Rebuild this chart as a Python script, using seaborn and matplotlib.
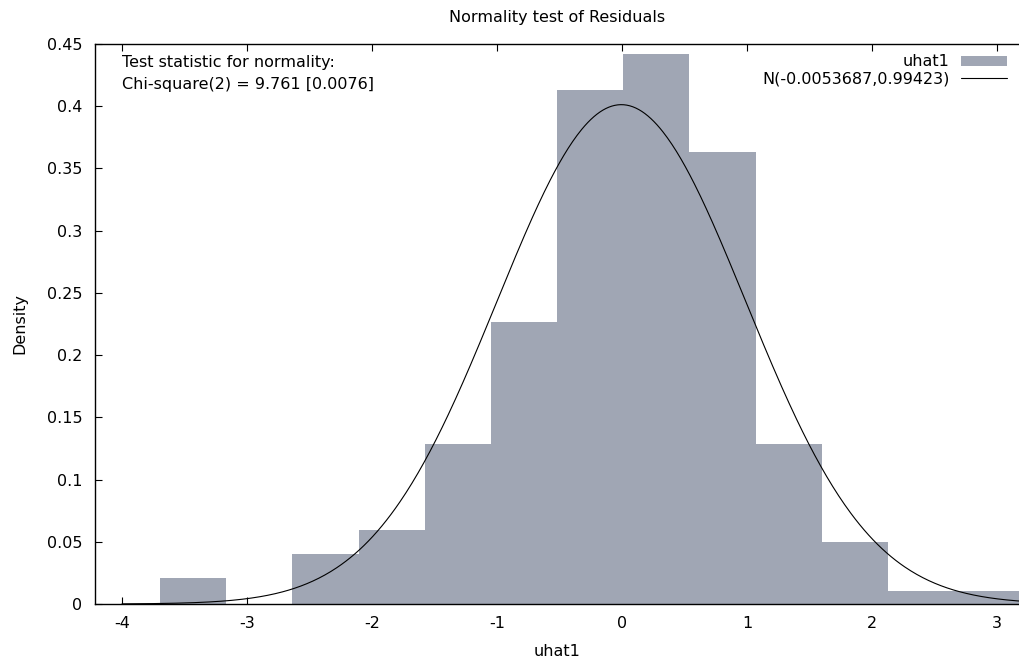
import numpy as np
import pandas as pd
import matplotlib
matplotlib.use("Agg")
import matplotlib.pyplot as plt
import seaborn as sns
from matplotlib.patches import Patch
from matplotlib.lines import Line2D

# Histogram bins (edges) and densities
bin_edges = [-3.696, -3.1665, -2.637, -2.1075, -1.578, -1.0485, -0.519, 0.0105, 0.540, 1.0695, 1.599, 2.1285, 2.658, 3.1875]
densities = [0.0209, 0.0, 0.0402, 0.0595, 0.1286, 0.2267, 0.4130, 0.4420, 0.3633, 0.1286, 0.0498, 0.0105, 0.0105]
norm_mean = -0.0053687
norm_sd = 0.99423
x_ticks = [-4, -3, -2, -1, 0, 1, 2, 3]
y_ticks = [0, 0.05, 0.1, 0.15, 0.2, 0.25, 0.3, 0.35, 0.4, 0.45]
y_ticklabels = ["0", "0.05", "0.1", "0.15", "0.2", "0.25", "0.3", "0.35", "0.4", "0.45"]
annot_lines = ["Test statistic for normality:", "Chi-square(2) = 9.761 [0.0076]"]
legend_labels = ["uhat1", "N(-0.0053687,0.99423)"]

bar_color = "#a0a6b4"
FS = 11.5

sns.set_theme(style="white")
plt.rcParams['font.family'] = ['DejaVu Sans']
plt.rcParams['text.color'] = 'black'

fig = plt.figure(figsize=(10.2, 6.64), dpi=100)
ax = fig.add_axes([95/1020, 60/664, 925/1020, 560/664])

centers = [(a + b) / 2 for a, b in zip(bin_edges[:-1], bin_edges[1:])]
df = pd.DataFrame({"uhat1": centers, "w": densities})
sns.histplot(data=df, x="uhat1", weights="w", bins=bin_edges, stat="count",
             color=bar_color, alpha=1.0, edgecolor="none", linewidth=0, ax=ax)

xs = np.linspace(-4.0, 3.2, 600)
pdf = np.exp(-0.5 * ((xs - norm_mean) / norm_sd) ** 2) / (norm_sd * np.sqrt(2 * np.pi))
sns.lineplot(x=xs, y=pdf, color="black", linewidth=0.8, ax=ax)

ax.set_xlim(-4.216, 3.184)
ax.set_ylim(0, 0.45)
ax.set_xticks(x_ticks)
ax.set_xticklabels([str(t) for t in x_ticks])
ax.set_yticks(y_ticks)
ax.set_yticklabels(y_ticklabels)

for s in ["left", "bottom", "top"]:
    ax.spines[s].set_visible(True)
    ax.spines[s].set_color("black")
    ax.spines[s].set_linewidth(1.0)
ax.spines["right"].set_visible(False)

ax.tick_params(axis="x", direction="in", length=5, width=0.8, color="black",
               top=True, bottom=True, labelsize=FS, pad=9, labelcolor="black")
ax.tick_params(axis="y", direction="in", length=5, width=0.8, color="black",
               left=True, right=False, labelsize=FS, pad=9, labelcolor="black")

ax.set_xlabel("uhat1", fontsize=FS, labelpad=9, color="black")
ax.set_ylabel("Density", fontsize=FS, labelpad=14, color="black")
ax.set_title("Normality test of Residuals", fontsize=FS, pad=16, color="black")

ax.text((122 - 95) / 925, (604 - 63) / 560, annot_lines[0], transform=ax.transAxes,
        fontsize=FS, va="center", ha="left", color="black")
ax.text((122 - 95) / 925, (604 - 85) / 560, annot_lines[1], transform=ax.transAxes,
        fontsize=FS, va="center", ha="left", color="black")

handles = [Patch(facecolor=bar_color, edgecolor="none"),
           Line2D([0], [0], color="black", linewidth=0.8)]
leg = ax.legend(handles, legend_labels, loc="upper right", frameon=False, markerfirst=False,
                fontsize=FS, handlelength=2.9, handleheight=0.6, labelspacing=0.15,
                bbox_to_anchor=(0.993, 0.993), borderaxespad=0.0, handletextpad=0.7,
                labelcolor="black")

fig.savefig("out.png", dpi=100)
